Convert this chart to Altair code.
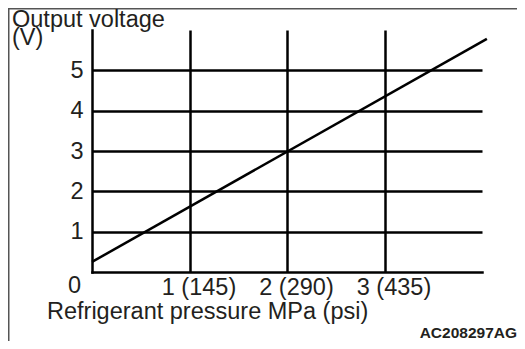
import altair as alt
import pandas as pd

# ---- data ----
pressure = [0.0, 4.05]          # MPa (line end points)
voltage = [0.25, 5.78]          # V
y_ticks = [1, 2, 3, 4, 5]
x_ticks = [1, 2, 3]
x_tick_labels = ["1 (145)", "2 (290)", "3 (435)"]
y_title_lines = ["Output voltage", "(V)"]
x_title = "Refrigerant pressure MPa (psi)"
origin_label = "0"
figure_code = "AC208297AG"

FONT = "Liberation Sans"
INK = "#231f20"
FS = 23.5
LW = 2.5

label_expr = " : ".join(
    f"datum.value == {v} ? '{t}'" for v, t in zip(x_ticks, x_tick_labels)
) + " : ''"

line_df = pd.DataFrame({"p": pressure, "v": voltage})

x_scale = alt.Scale(domain=[0, 4], nice=False, zero=False)
y_scale = alt.Scale(domain=[0, 6], nice=False)

x_axis = alt.Axis(
    values=x_ticks, labelExpr=label_expr, title=None,
    grid=True, gridColor="black", gridWidth=LW, gridOpacity=1,
    domainColor="black", domainWidth=LW, domainCap="square",
    ticks=False, tickSize=0,
    labelFont=FONT, labelFontSize=FS, labelColor=INK,
    labelPadding=22, labelBaseline="alphabetic", labelOffset=9,
    labelFlush=False, labelOverlap=False,
)
y_axis = alt.Axis(
    values=y_ticks, title=None,
    grid=True, gridColor="black", gridWidth=LW, gridOpacity=1,
    domainColor="black", domainWidth=LW, domainCap="square",
    ticks=False, tickSize=0,
    labelFont=FONT, labelFontSize=FS, labelColor=INK,
    labelPadding=9, labelBaseline="middle",
    labelFlush=False, labelOverlap=False,
)

line = alt.Chart(line_df).mark_line(
    color="black", strokeWidth=LW, clip=False
).encode(
    x=alt.X("p:Q", scale=x_scale, axis=x_axis),
    y=alt.Y("v:Q", scale=y_scale, axis=y_axis),
)

origin = alt.Chart(pd.DataFrame({"p": [0], "v": [0], "t": [origin_label]})).mark_text(
    font=FONT, fontSize=FS, color=INK, align="right", baseline="alphabetic",
    dx=-11, dy=21,
).encode(x="p:Q", y="v:Q", text="t:N")

def label(txt, x, y, size=FS, weight="normal", align="left"):
    return alt.Chart(pd.DataFrame({"t": [txt]})).mark_text(
        font=FONT, fontSize=size, fontWeight=weight, color=INK,
        align=align, baseline="alphabetic",
    ).encode(x=alt.value(x), y=alt.value(y), text="t:N")

frame = alt.Chart(pd.DataFrame({"a": [0]})).mark_rect(
    fillOpacity=0, stroke="#555555", strokeWidth=1.5
).encode(x=alt.value(-83.25), y=alt.value(-21.25), x2=alt.value(700), y2=alt.value(700))

chart = alt.layer(
    frame,
    line,
    origin,
    label(y_title_lines[0], -80, -3),
    label(y_title_lines[1], -80, 15),
    label(x_title, -45, 289),
    label(figure_code, 425, 308, size=15.5, weight="bold", align="right"),
).properties(
    width=390, height=242,
    autosize=alt.AutoSizeParams(type="none"),
    padding={"left": 84, "top": 22, "right": 35, "bottom": 69},
    background="white",
).configure_view(stroke=None)

chart.save("out.html", embed_options={"renderer": "svg", "actions": False})
